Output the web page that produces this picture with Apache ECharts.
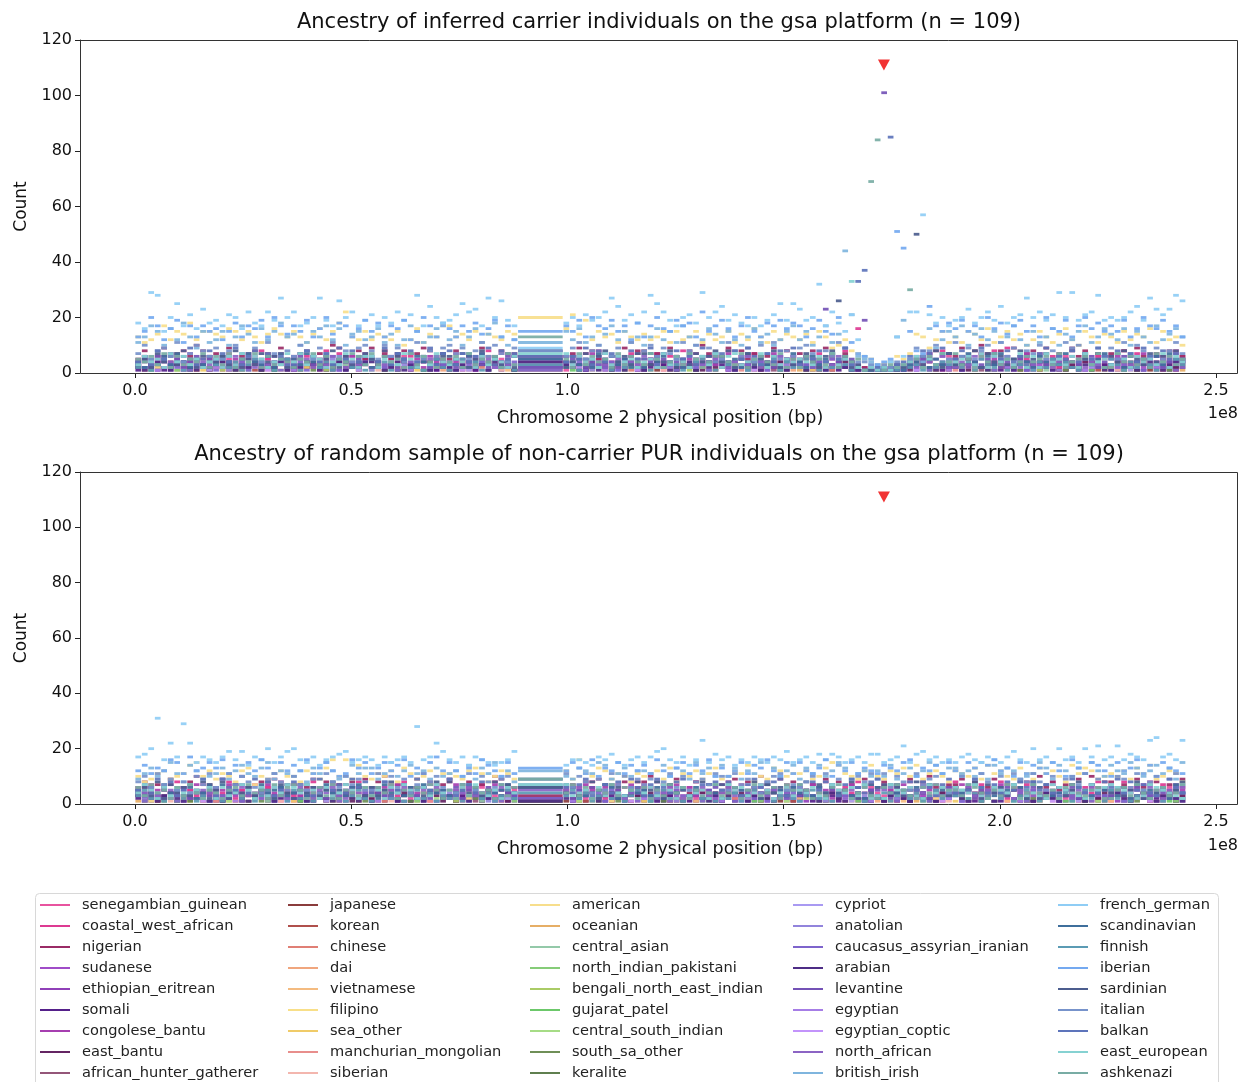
<!DOCTYPE html>
<html><head><meta charset="utf-8">
<script src="https://cdn.jsdelivr.net/npm/echarts@6/dist/echarts.min.js"></script>
<style>html,body{margin:0;padding:0;background:#fff}#chart{width:1241px;height:1082px}</style>
</head><body><div id="chart"></div>
<script>
// ---------- categories ----------
const ancestryNames = ["senegambian_guinean","coastal_west_african","nigerian","sudanese","ethiopian_eritrean","somali","congolese_bantu","east_bantu","african_hunter_gatherer",
"japanese","korean","chinese","dai","vietnamese","filipino","sea_other","manchurian_mongolian","siberian",
"american","oceanian","central_asian","north_indian_pakistani","bengali_north_east_indian","gujarat_patel","central_south_indian","south_sa_other","keralite",
"cypriot","anatolian","caucasus_assyrian_iranian","arabian","levantine","egyptian","egyptian_coptic","north_african","british_irish",
"french_german","scandinavian","finnish","iberian","sardinian","italian","balkan","east_european","ashkenazi"];
const ancestryColors = ["#e8539f","#dd3a92","#9a2b66","#a04cc8","#9040b8","#55208a","#a63fb0","#642563","#945679",
"#8a3c3c","#b0504c","#e07f75","#f0a67e","#f4bb80","#f8df88","#f0cb68","#e88e8c","#f3b6ae",
"#f7de8c","#e6ae66","#94c9a9","#86cc78","#aacb66","#6cc86a","#a6dc86","#6f8f57","#5f7f4f",
"#a99af2","#9284dc","#7e64cc","#4e2d86","#7452b6","#a67de6","#c394fb","#8c64c4","#7fb5de",
"#8fcdf5","#3f6f9c","#5b9bb4","#74a9f0","#4c5d8e","#7793cb","#5d74bb","#86d2d2","#78aca4"];

// ---------- genomic windows ----------
const binWidth = 1.5e6;
const centromereStart = 88.5e6, centromereEnd = 99e6;
const windowsBeforeCentromere = 59;
const windowCount = 156;
const xTicks = [0, 0.5e8, 1.0e8, 1.5e8, 2.0e8, 2.5e8];
const yTicks = [0, 20, 40, 60, 80, 100, 120];
const variantPosition = [173200000, 111];

// ---------- TOP panel: carriers (base-36 count per window) ----------
const T_french_german = "igtsfkphlgni jhlkgmihmjrk mhikrjhqkmhj lhkimjlshoki jlpmnhrkqjh9 ikhljkmrojli mspmjhklitkm ojlihkhjlpjp njkwhmiflc63 224d6mmllikh jknikmjoiklr kmjltktjlmsj kjkmojrnlnsq";
const T_iberian = "dfkhcgjbhdhf gcfidhgjdkhe hfjdgkeihdgj fidhgjcfkhdh gdhfiegjdhcf hfjdkhgjfhci dhkgfjhidmfh jgdhkfdihjgi hdgjfek9b765 345jjf87ohfi gjfhdkgiehjf hdkgfjdhkgif hfjdgkhgjfhd";
const T_british_irish = "bdhfagcid9fb cfadhebgcfid eabfdhcgaefc dgbeachfbdgi cfadgbeidacb fcgbdaehcfbd adgcfbhdacge bfcadgbeacfh cfadhbedl654 324dj564g9cf dhaegcfbdhca fbdgaecfhbdg ecgafdbhcegd";
const T_american = "dbcehcfeicff edgfcfdbeged fdbegcfimdcf cedcfacgbedh hdecfbedcfek glejcfdebfdc ecdfbfcdfbec dfbecgdbfced cebfd9ac8765 334657ed9cfb dbfecgbdfcea cfdbegcafdbe dbfcedgbfcda";
const T_nigerian = "583694726a85 749365827495 658374a96385 947568379465 584739658476 679485736948 857396485a74 694857369485 758396473221 121233465837 6958a7483957 849375968473 758496375846";
const T_coastal_west_african = "463527384526 357426385274 426358274635 538274635827 374625837465 462738546372 537462837546 284637526384 463725384g21 112324637284 536274839265 374625837462 628374526384";
const T_senegambian_guinean = "243152634152 315243625134 524316253416 231546324153 452613425314 136425314263 253146235416 412536142536 325146324111 011213254316 425163425136 314526314265 243615243516";
const T_congolese_bantu = "352463527436 463527346253 274635243627 536274352647 243657324563 625374263547 354726354263 472635427356 263547263211 121232547362 536274536247 247365247356 365247365274";
const T_east_bantu = "213242312431 324132413241 132423142313 241314231424 312423134212 423143214231 134231423142 241324132413 312421341101 101121324132 231423142314 413241324132 241314231423";
const T_somali = "120312021301 201312032102 312021301230 021302130213 130213021302 203120312031 120312031203 312031203120 031203121010 010102120312 203120312031 120312031203 312031203120";
const T_levantine = "352643524635 436253426354 264352634253 543625436254 325463254632 653246532465 246534265346 534265342653 425362435211 111224356243 362435624356 243562435624 356243562435";
const T_north_african = "463524635243 524635243652 635243652436 243652436524 352436524365 436524365243 652436524365 524365243652 365243652311 112213524365 243652436524 365243652436 524365243652";
const T_arabian = "213421342132 342132413241 124313241324 431241324132 213423142314 341231423142 132413241324 421342134213 314213421101 101112342134 213421342134 342134213421 134213421342";
const T_caucasus_assyrian_iranian = "324153241532 153241532415 241532415324 532415324153 415324153241 324153241532 153241532415 241532415324 532415324111 111213241532 415324153241 324153241532 153241532415";
const T_scandinavian = "425363742536 364257436275 537426354263 246375264357 352647352465 463527463524 274635274637 635274536247 426357264211 112213462537 537426375264 264537426357 372645263754";
const T_finnish = "241352413524 352413542135 413524135241 524135241352 135241352413 241352514232 315243124531 432514325142 253142531201 011122315243 324153241532 142534215342 531425314253";
const T_sardinian = "352746385264 463825374652 274635826347 528364725836 637258463728 245736824637 736482537468 482573648253 574268352311 122324635827 365827463582 527463825376 648253746285";
const T_italian = "7a5896b47a86 958a7694b758 6a8597b6849a 85a6947b5869 a7958b6a7498 69b58a7694b5 8a6975b8a694 5b8694a7b586 9a7586b93443 232435968a75 b6958a7b6948 7a586b9a7596 95b7a86958b7";
const T_balkan = "463857469358 574936857463 358647395846 649375846937 837465938576 465938476385 593748563947 748596374859 365847593322 213346587394 586394758463 479365847596 385749638574";
const T_east_european = "364527463524 526374652437 473652437526 625437526374 354726354267 736452736452 452736425637 267345726354 543627354212 121234625374 456372645372 627453627345 375264537264";
const T_ashkenazi = "546372635472 637254726354 254736254763 736452736425 46273546273d 527364527364 375246375246 643725643725 264537264512 113234526374 735264735246 456372456372 274635274635";
// sparse minor ancestries: "window:count"
const T_sudanese = "2:1 9:2 15:1 23:3 31:1 38:2 46:1 55:2 63:1 71:3 80:1 88:2 97:1 118:2 126:1 133:3 141:1 149:2";
const T_ethiopian_eritrean = "5:1 13:2 21:1 29:1 36:2 44:1 52:1 61:2 69:1 77:1 85:2 93:1 121:1 129:2 137:1 146:1 153:2";
const T_african_hunter_gatherer = "7:1 19:1 33:2 48:1 66:1 79:2 92:1 124:1 139:2 151:1";
const T_japanese = "11:1 27:2 42:1 58:1 74:1 90:2 119:1 136:1 150:1";
const T_korean = "4:2 18:1 35:3 50:1 67:2 83:1 99:1 127:2 142:1 154:1";
const T_chinese = "8:3 24:1 39:4 53:2 70:1 86:3 101:1 122:2 138:4 148:1";
const T_dai = "14:1 30:2 47:1 62:1 78:2 95:1 130:1 144:2";
const T_vietnamese = "6:1 22:1 41:2 57:1 73:1 89:1 125:2 140:1";
const T_filipino = "3:2 16:1 28:3 45:1 60:2 76:1 94:2 117:1 131:3 147:1";
const T_sea_other = "10:1 26:2 43:1 64:1 81:2 98:1 123:1 143:1";
const T_manchurian_mongolian = "12:2 34:1 51:1 68:2 87:1 120:1 135:2 152:1";
const T_siberian = "1:1 20:1 37:1 56:1 75:1 91:1 128:1 145:1";
const T_oceanian = "9:1 25:1 40:2 59:1 72:1 96:1 132:1 155:1";
const T_central_asian = "0:2 17:1 32:3 49:1 65:2 82:1 100:1 118:2 134:1 149:3";
const T_north_indian_pakistani = "6:1 23:2 38:1 54:1 70:2 88:1 125:1 139:2";
const T_bengali_north_east_indian = "13:1 29:1 46:2 62:1 79:1 97:1 133:1 150:2";
const T_gujarat_patel = "2:1 21:1 44:1 61:1 84:2 120:4 141:1";
const T_central_south_indian = "15:1 36:1 52:2 69:1 93:1 126:1 146:1";
const T_south_sa_other = "8:1 27:1 45:1 63:2 80:1 116:1 137:1 153:1";
const T_keralite = "19:1 40:1 58:1 77:1 104:1 130:1 148:1";
const T_cypriot = "1:2 5:3 11:1 17:2 22:4 28:2 34:1 39:3 45:2 51:1 57:3 62:2 68:1 74:3 80:2 86:4 91:1 97:2 104:1 110:1 117:3 123:2 129:1 135:3 141:2 147:1 152:3";
const T_anatolian = "0:3 4:2 9:4 14:1 19:3 25:2 30:5 36:1 41:3 47:2 53:4 59:2 64:1 70:3 76:2 82:4 88:1 94:3 101:2 107:1 112:1 118:3 124:2 130:4 136:1 142:3 148:2 154:4";
const T_egyptian = "3:1 12:2 24:1 33:3 42:1 55:2 66:1 75:2 85:1 96:2 119:1 128:2 140:1 151:2";
const T_egyptian_coptic = "7:1 20:1 37:2 50:1 71:1 89:1 114:1 132:1 145:2";
// peak counts above the base-36 range: [ancestry, window, count]
const T_peaks = [["british_irish",103,44],["east_european",104,33],["balkan",105,33],["balkan",106,37],["ashkenazi",107,69],["ashkenazi",108,84],["levantine",109,101],["balkan",110,85],["iberian",111,51],["iberian",112,45],["ashkenazi",113,30],["sardinian",114,50],["french_german",115,57],["levantine",100,23],["sardinian",102,26],["levantine",106,19]];

// ---------- BOTTOM panel: random non-carriers ----------
const B_french_german = "hikvgmhtmfhg fhjgjehgkfhj kgfheghijfgh gehfghfsghmj gfhehgfefgj9 eggfehgifegh fhjkgfhegnfi ghegfhgfhgjf ghfigihfghfi ifghlfijghfg fhigfhgfhjgf kghfkghfkhlg hlgihgnohign";
const B_iberian = "cebdcgfbhcdf dgbeafcgdbfc ecgbdfcabgdf bdfcegadbfhc fcadbgecafbd cfdbgadcfbec ebgcadfbecga dacfbedgcafb fcbdgaecfbdc bedcfgadcebf cafdbegcdafb edbfcagdbfec afcdgbeafdcb";
const B_british_irish = "9bdacfb8ec9a bd9cebadf9cb ac8dbfc9aebd d9bfacebc9da bcae9dbfac8c a9dcbfe9bdac cb8eadc9fbda ead9cbf8dace 9dbeacfd9bca cae9bdacfebd dbcaf9ebdc9a bfd9ecadbfca ecbfdacebd9f";
const B_american = "a89bc9abefac 9ba8cd7a9bca a8cb9dgag9ea 9bac8db9ac7b ba9cdb8acb99 c9gbadc9ba8b abc9d8bac9bd 9acbe8a9dcab bc9adfeba9ce a9cbdae9bca8 cbad9ebca9db 9dbca8ebdc9a bac9dbe9acb8";
const B_nigerian = "684759368a47 5947a6385947 736948573869 48a573694857 9368475a9363 574869375846 8a5739648573 469385a74968 357496837495 68473958a647 795846937568 4a6857394a68 837596483759";
const B_coastal_west_african = "527364825374 648253746285 375826473582 264738526473 853627485362 426385247638 738462538472 582736485273 647285364827 375648273564 826473582647 463825736482 758264837526";
const B_senegambian_guinean = "315264315243 426153426315 153426153642 642315264153 231546231452 514263514236 362415362541 145326145362 253614253146 436125436215 621453621534 314562314625 152634152643";
const B_congolese_bantu = "463527463725 257346257463 735462735264 346275346752 572634572436 624753624375 263547263574 756324756342 437652437625 325476325746 674235674253 542763542736 236457236475";
const B_east_bantu = "324132413214 132413241342 413241324123 241324132431 314231423142 423142314213 142314231434 231423142321 342134213412 213421342143 421342134231 134213421324 243124312413";
const B_somali = "201320132031 312031203120 023102310213 130213021302 213021302130 021302130213 302130213021 120312031203 231023102310 013201320132 320132013201 102310231023 231203120312";
const B_levantine = "436254362543 625436254362 254362543625 543625436254 362543625436 425363425364 634252634256 256344256343 343625343625 562433562436 436255436254 625343625345 354262354264";
const B_north_african = "546325463254 325463254632 463254632546 632546325463 254632546325 546325463254 325463254632 463254632546 632546325463 254632546325 546325463254 325463254632 463254632546";
const B_arabian = "342134213421 213421342134 421342134213 134213421342 342134213421 213421342134 421342134213 134213421342 342134213421 213421342134 421342134213 134213421342 342134213421";
const B_caucasus_assyrian_iranian = "415324153241 532415324153 241532415324 153241532415 324153241532 415324153241 532415324153 241532415324 153241532415 324153241532 415324153241 532415324153 241532415324";
const B_scandinavian = "536274536247 274536274563 453627453672 627453627345 345762345726 762345762354 536274536274 274536274536 453627453627 627453627453 345762345762 762345762345 536274536274";
const B_finnish = "352413524135 413524135241 524135241352 135241352413 241352413524 352413524135 413524135241 524135241352 135241352413 241352413524 352413524135 413524135241 524135241352";
const B_sardinian = "463827463582 582746358274 274635827463 635827463582 827463582746 463582746358 358274635827 746358274635 582746358274 274635827463 635827463582 827463582746 463582746358";
const B_italian = "8a6b79584a7b 69b7a8649b85 a7594b86a795 5b8a6947b8a6 947b5a869a47 b6a8495b7a69 7948b6a5897b a5b79648ab57 68a5b7946a8b 9b6a85b79a64 5a79b86a4b98 b85a69a7b596 7a96b58a69b7";
const B_balkan = "574968357496 396574968357 857396574968 468357396574 935748357649 647935748396 379648935748 586379648935 748586379648 964748586379 435964748586 857435964748 694857435964";
const B_east_european = "475263647526 263475263647 647526347526 352647526374 526374352647 734526374352 463752634527 275634752463 546327546372 327546327465 654732654723 432765432756 765423765432";
const B_ashkenazi = "637452637425 425637452736 752463725436 364725364752 527364527369 473625473652 625374625347 346257346275 752436752463 264753264735 537642537624 743526743562 256374256347";
const B_sudanese = "4:2 11:1 19:3 27:1 35:2 42:1 50:2 58:1 66:3 74:1 83:2 91:1 99:2 107:1 115:3 124:1 132:2 140:1 148:2";
const B_ethiopian_eritrean = "1:1 9:2 17:1 25:1 33:2 41:1 49:1 57:2 65:1 73:1 81:2 89:1 97:1 105:2 113:1 121:1 129:2 137:1 145:1 153:2";
const B_african_hunter_gatherer = "6:1 21:2 37:1 52:1 68:2 84:1 100:1 116:2 131:1 147:1";
const B_japanese = "13:1 29:1 44:2 60:1 77:1 93:1 109:2 126:1 142:1";
const B_korean = "3:1 16:2 32:1 48:3 63:1 79:2 95:1 111:1 127:2 143:1";
const B_chinese = "7:2 23:4 38:1 54:3 70:1 86:2 102:5 118:1 134:3 150:1";
const B_dai = "10:1 26:2 43:1 59:1 75:2 92:1 108:1 125:2 141:1";
const B_vietnamese = "14:1 31:1 47:2 64:1 80:1 96:2 112:1 128:1 144:1";
const B_filipino = "2:1 18:2 34:1 51:2 67:1 85:3 101:1 117:2 133:1 149:2";
const B_sea_other = "8:1 24:1 40:2 56:1 72:1 88:2 104:1 120:1 136:2 152:1";
const B_manchurian_mongolian = "12:1 28:2 45:1 61:1 78:2 94:1 110:1 123:2 139:1 155:1";
const B_siberian = "5:1 22:1 39:1 55:1 71:1 87:1 103:1 119:1 135:1 151:1";
const B_oceanian = "0:1 15:1 30:2 46:1 62:1 76:1 98:2 114:1 130:1 146:1";
const B_central_asian = "9:2 20:1 36:3 53:1 69:2 82:1 99:1 113:2 129:1 145:3";
const B_north_indian_pakistani = "11:1 27:2 43:1 58:1 74:2 90:1 106:1 122:2 138:1 154:1";
const B_bengali_north_east_indian = "1:1 17:1 33:2 49:1 65:1 81:1 97:2 115:1 131:1 147:2";
const B_gujarat_patel = "6:1 25:1 41:1 57:2 73:1 89:1 105:1 121:2 137:1 153:1";
const B_central_south_indian = "14:1 30:1 46:2 62:1 78:1 94:1 110:2 126:1 142:1";
const B_south_sa_other = "4:1 19:1 35:1 52:2 68:1 84:1 100:1 116:1 132:2 148:1";
const B_keralite = "8:1 26:1 42:1 59:1 75:1 91:2 107:1 124:1 140:1";
const B_cypriot = "2:3 7:1 13:2 18:4 24:2 29:1 35:3 40:2 46:1 52:3 57:2 63:4 69:1 75:2 81:3 87:1 92:2 98:3 104:1 109:2 115:4 121:1 127:2 133:3 139:1 144:2 150:3 155:1";
const B_anatolian = "1:2 6:4 11:1 16:3 21:2 26:5 32:1 37:3 43:2 48:4 54:1 60:3 65:2 71:4 77:1 83:3 88:2 94:5 100:1 106:3 111:2 117:4 122:1 128:3 134:2 140:4 146:1 151:3";
const B_egyptian = "5:2 15:1 26:2 37:1 49:3 61:1 72:2 84:1 95:2 107:1 119:2 130:1 141:3 152:1";
const B_egyptian_coptic = "10:1 23:1 39:2 55:1 70:1 87:1 103:2 118:1 135:1 150:1";
const B_peaks = [];

// ---------- decoding ----------
function decode(s) {
  const out = new Array(windowCount).fill(null);
  if (s.indexOf(':') >= 0) {
    s.trim().split(/\s+/).forEach(p => { const q = p.split(':'); out[+q[0]] = +q[1]; });
  } else {
    s.replace(/\s+/g, '').split('').forEach((c, i) => { if (i < windowCount) out[i] = parseInt(c, 36); });
  }
  return out;
}
const topSource = {senegambian_guinean:T_senegambian_guinean, coastal_west_african:T_coastal_west_african, nigerian:T_nigerian, sudanese:T_sudanese, ethiopian_eritrean:T_ethiopian_eritrean, somali:T_somali, congolese_bantu:T_congolese_bantu, east_bantu:T_east_bantu, african_hunter_gatherer:T_african_hunter_gatherer,
 japanese:T_japanese, korean:T_korean, chinese:T_chinese, dai:T_dai, vietnamese:T_vietnamese, filipino:T_filipino, sea_other:T_sea_other, manchurian_mongolian:T_manchurian_mongolian, siberian:T_siberian,
 american:T_american, oceanian:T_oceanian, central_asian:T_central_asian, north_indian_pakistani:T_north_indian_pakistani, bengali_north_east_indian:T_bengali_north_east_indian, gujarat_patel:T_gujarat_patel, central_south_indian:T_central_south_indian, south_sa_other:T_south_sa_other, keralite:T_keralite,
 cypriot:T_cypriot, anatolian:T_anatolian, caucasus_assyrian_iranian:T_caucasus_assyrian_iranian, arabian:T_arabian, levantine:T_levantine, egyptian:T_egyptian, egyptian_coptic:T_egyptian_coptic, north_african:T_north_african, british_irish:T_british_irish,
 french_german:T_french_german, scandinavian:T_scandinavian, finnish:T_finnish, iberian:T_iberian, sardinian:T_sardinian, italian:T_italian, balkan:T_balkan, east_european:T_east_european, ashkenazi:T_ashkenazi};
const bottomSource = {senegambian_guinean:B_senegambian_guinean, coastal_west_african:B_coastal_west_african, nigerian:B_nigerian, sudanese:B_sudanese, ethiopian_eritrean:B_ethiopian_eritrean, somali:B_somali, congolese_bantu:B_congolese_bantu, east_bantu:B_east_bantu, african_hunter_gatherer:B_african_hunter_gatherer,
 japanese:B_japanese, korean:B_korean, chinese:B_chinese, dai:B_dai, vietnamese:B_vietnamese, filipino:B_filipino, sea_other:B_sea_other, manchurian_mongolian:B_manchurian_mongolian, siberian:B_siberian,
 american:B_american, oceanian:B_oceanian, central_asian:B_central_asian, north_indian_pakistani:B_north_indian_pakistani, bengali_north_east_indian:B_bengali_north_east_indian, gujarat_patel:B_gujarat_patel, central_south_indian:B_central_south_indian, south_sa_other:B_south_sa_other, keralite:B_keralite,
 cypriot:B_cypriot, anatolian:B_anatolian, caucasus_assyrian_iranian:B_caucasus_assyrian_iranian, arabian:B_arabian, levantine:B_levantine, egyptian:B_egyptian, egyptian_coptic:B_egyptian_coptic, north_african:B_north_african, british_irish:B_british_irish,
 french_german:B_french_german, scandinavian:B_scandinavian, finnish:B_finnish, iberian:B_iberian, sardinian:B_sardinian, italian:B_italian, balkan:B_balkan, east_european:B_east_european, ashkenazi:B_ashkenazi};

function windowRange(i) {
  if (i < windowsBeforeCentromere) return [i * binWidth, (i + 1) * binWidth];
  if (i === windowsBeforeCentromere) return [centromereStart, centromereEnd];
  const k = i - windowsBeforeCentromere - 1;
  return [centromereEnd + k * binWidth, centromereEnd + (k + 1) * binWidth];
}

const FONT = "'DejaVu Sans', sans-serif";
// axis index layout: 2p = frame grid (left spine + y ticks), 2p+1 = data grid (x ticks + marks)
const series = [];
[[topSource, T_peaks], [bottomSource, B_peaks]].forEach(([src, peaks], p) => {
  const ax = 2 * p + 1;
  ancestryNames.forEach((name, a) => {
    const vals = decode(src[name]);
    peaks.forEach(pk => { if (pk[0] === name) vals[pk[1]] = pk[2]; });
    const data = [];
    vals.forEach((v, i) => { if (v) { const r = windowRange(i); data.push([r[0], r[1], v]); } });
    const color = ancestryColors[a];
    series.push({
      type: 'custom', name, xAxisIndex: ax, yAxisIndex: ax,
      itemStyle: { color }, encode: { x: [0, 1], y: 2 }, data,
      animation: false, silent: true,
      renderItem: (params, api) => {
        const s = api.coord([api.value(0), api.value(2)]);
        const e = api.coord([api.value(1), api.value(2)]);
        return { type: 'line', shape: { x1: s[0] + 0.4, y1: s[1], x2: e[0] - 0.4, y2: e[1] },
                 style: { stroke: color, lineWidth: 2.8, opacity: 0.92 } };
      }
    });
  });
  series.push({ type: 'scatter', name: 'variant', xAxisIndex: ax, yAxisIndex: ax, data: [variantPosition],
    symbol: 'triangle', symbolRotate: 180, symbolSize: [12, 11], itemStyle: { color: '#ee0000' }, silent: true, z: 10, animation: false });
});

const gridTops = [40, 472], gridHeights = [333, 332];
const titles = ['Ancestry of inferred carrier individuals on the gsa platform (n = 109)',
                'Ancestry of random sample of non-carrier PUR individuals on the gsa platform (n = 109)'];
const axisText = { fontFamily: FONT, color: '#111' };
const grids = [], xAxes = [], yAxes = [];
[0, 1].forEach(p => {
  grids.push({ left: 80, top: gridTops[p], width: 1158, height: gridHeights[p] });
  grids.push({ left: 135, top: gridTops[p], width: 1081, height: gridHeights[p] });
  // frame grid axes
  xAxes.push({ gridIndex: 2 * p, type: 'value', min: 0, max: 1, show: false });
  yAxes.push({ gridIndex: 2 * p, type: 'value', min: yTicks[0], max: yTicks[yTicks.length - 1], interval: yTicks[1] - yTicks[0],
    name: 'Count', nameLocation: 'middle', nameGap: 50, nameTextStyle: Object.assign({ fontSize: 17 }, axisText),
    axisLine: { show: true, lineStyle: { color: '#333', width: 1 } }, splitLine: { show: false },
    axisTick: { show: true, length: 5, lineStyle: { color: '#222' } },
    axisLabel: Object.assign({ fontSize: 16, margin: 8 }, axisText) });
  // data grid axes
  xAxes.push({ gridIndex: 2 * p + 1, type: 'value', min: xTicks[0], max: xTicks[xTicks.length - 1], interval: xTicks[1] - xTicks[0],
    name: 'Chromosome 2 physical position (bp)', nameLocation: 'middle', nameGap: 36,
    nameTextStyle: Object.assign({ fontSize: 17.5, padding: [0, 31, 0, 0] }, axisText),
    axisLine: { show: false }, splitLine: { show: false },
    axisTick: { show: true, length: 5, lineStyle: { color: '#222' } },
    axisLabel: Object.assign({ fontSize: 16, margin: 10, formatter: v => (v / 1e8).toFixed(1) }, axisText) });
  yAxes.push({ gridIndex: 2 * p + 1, type: 'value', min: yTicks[0], max: yTicks[yTicks.length - 1], interval: yTicks[1] - yTicks[0], show: false });
});

const option = {
  backgroundColor: '#fff',
  animation: false,
  title: titles.map((t, p) => ({ text: t, left: 659, top: gridTops[p] - 28, textAlign: 'center', padding: 0,
    textStyle: { fontFamily: FONT, fontSize: 21, fontWeight: 'normal', color: '#111' } })),
  grid: grids, xAxis: xAxes, yAxis: yAxes,
  legend: [40, 288, 530, 793, 1058].map((x, c) => ({
    orient: 'vertical', left: x, top: 897, padding: 0, itemWidth: 30, itemHeight: 2, itemGap: 5, icon: 'rect',
    selectedMode: false, data: ancestryNames.slice(c * 9, c * 9 + 9),
    textStyle: { fontFamily: FONT, fontSize: 14.6, color: '#222', lineHeight: 16, padding: [0, 0, 0, 7] } })),
  graphic: [
    { type: 'rect', silent: true, z: 100, shape: { x: 80.5, y: 40.5, width: 1157, height: 333 }, style: { fill: 'none', stroke: '#333', lineWidth: 1 } },
    { type: 'rect', silent: true, z: 100, shape: { x: 80.5, y: 472.5, width: 1157, height: 332 }, style: { fill: 'none', stroke: '#333', lineWidth: 1 } },
    { type: 'rect', silent: true, z: 0, shape: { x: 35.5, y: 893.5, width: 1183, height: 260, r: 4 }, style: { fill: 'none', stroke: '#d8d8d8', lineWidth: 1 } },
    { type: 'text', silent: true, style: { text: '1e8', x: 1238, y: 414, textAlign: 'right', textVerticalAlign: 'middle', font: "16px 'DejaVu Sans'", fill: '#111' } },
    { type: 'text', silent: true, style: { text: '1e8', x: 1238, y: 846, textAlign: 'right', textVerticalAlign: 'middle', font: "16px 'DejaVu Sans'", fill: '#111' } }
  ],
  series
};
const chart = echarts.init(document.getElementById('chart'), null, { renderer: 'canvas' });
chart.setOption(option);
</script>
</body></html>
